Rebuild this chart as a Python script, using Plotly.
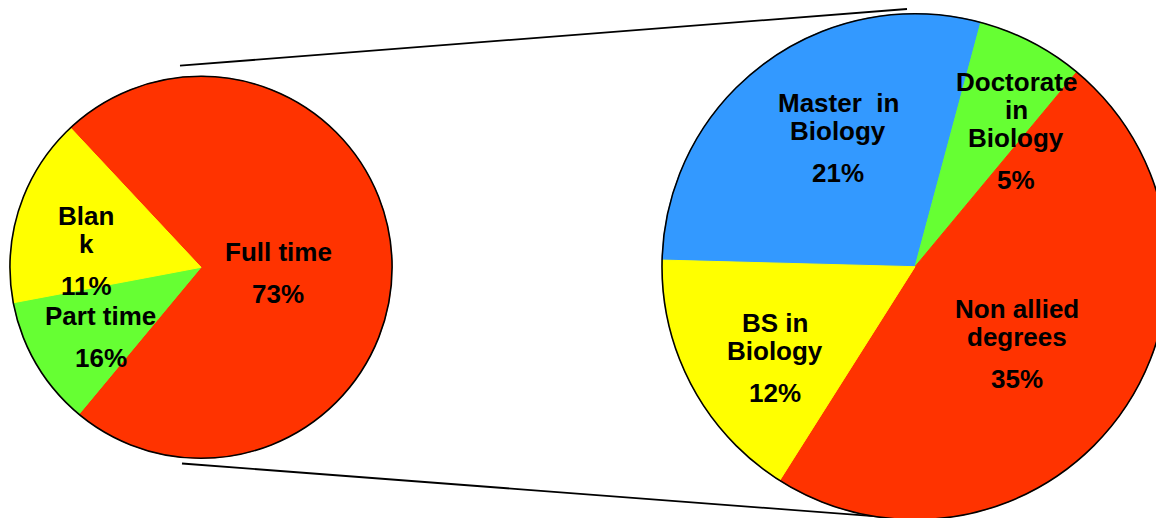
import plotly.graph_objects as go

# ---------------- data ----------------
# Left pie: employment status (slice sizes as drawn, printed percentage labels)
left_labels = ["Full time", "Part time", "Blank"]
left_values = [73, 11, 16]
left_printed = ["73%", "16%", "11%"]
left_display = ["Full time", "Part time", "Blan\nk"]
left_colors = ["#FF3300", "#66FF33", "#FFFF00"]

# Right pie: breakdown of the full-time group by degree
right_labels = ["Master in Biology", "Doctorate in Biology", "Non allied degrees", "BS in Biology"]
right_values = [21, 5, 35, 12]
right_printed = ["21%", "5%", "35%", "12%"]
right_display = ["Master  in\nBiology", "Doctorate\nin\nBiology", "Non allied\ndegrees", "BS in\nBiology"]
right_colors = ["#3399FF", "#66FF33", "#FF3300", "#FFFF00"]

# ---------------- layout geometry (pixels) ----------------
W, H = 1170, 520
FONT = "Liberation Sans, Arial, sans-serif"
FS = 26


def dom(cx, cy, r):
    return dict(x=[(cx - r) / W, (cx + r) / W], y=[1 - (cy + r) / H, 1 - (cy - r) / H])


left_dom = dom(201, 267.3, 191)
right_dom = dom(915, 266.7, 253)

fig = go.Figure()


def add_pie(labels, values, colors, domain, rotation):
    fig.add_trace(go.Pie(
        labels=labels, values=values, sort=False, direction="clockwise",
        rotation=rotation, domain=domain, textinfo="none", hoverinfo="label+value",
        marker=dict(colors=colors, line=dict(color=colors, width=1)),
        showlegend=False,
    ))
    # outer outline only
    fig.add_trace(go.Pie(
        labels=["outline"], values=[1], domain=domain, textinfo="none",
        hoverinfo="skip", sort=False,
        marker=dict(colors=["rgba(0,0,0,0)"], line=dict(color="black", width=1.6)),
        showlegend=False,
    ))


add_pie(left_labels, left_values, left_colors, left_dom, -43.1)
add_pie(right_labels, right_values, right_colors, right_dom, -88.5)

# label positions: (center x, first baseline y)
left_pos = [(278, 260.7), (100.5, 325), (86.3, 225)]
right_pos = [(838, 111.7), (1016, 90.7), (1017, 318.3), (775, 332.3)]
LINE_GAP = 28
PCT_GAP = 42

annotations = []


def add_labels(displays, printed, positions):
    for disp, pct, (x, y0) in zip(displays, printed, positions):
        lines = disp.split("\n")
        y = y0
        for i, ln in enumerate(lines):
            if i > 0:
                y += LINE_GAP
            annotations.append((x, y, ln))
        annotations.append((x, y + PCT_GAP, pct))


add_labels(left_display, left_printed, left_pos)
add_labels(right_display, right_printed, right_pos)

ann_objs = []
for x, yb, txt in annotations:
    ann_objs.append(dict(
        x=x, y=yb - 0.35 * FS, xref="x", yref="y", text="<b>%s</b>" % txt.replace(" ", "&nbsp;"),
        showarrow=False, xanchor="center", yanchor="middle",
        font=dict(family=FONT, size=FS, color="black"),
    ))

shapes = [
    dict(type="line", xref="x", yref="y", x0=180, y0=65.7, x1=907, y1=9,
         line=dict(color="black", width=1.8), layer="below"),
    dict(type="line", xref="x", yref="y", x0=182, y0=463.5, x1=880, y1=516.7,
         line=dict(color="black", width=1.8), layer="below"),
]

fig.update_layout(
    width=W, height=H, autosize=False,
    margin=dict(l=0, r=0, t=0, b=0, pad=0),
    paper_bgcolor="white", plot_bgcolor="rgba(0,0,0,0)",
    xaxis=dict(range=[0, W], visible=False, fixedrange=True, domain=[0, 1]),
    yaxis=dict(range=[H, 0], visible=False, fixedrange=True, domain=[0, 1]),
    annotations=ann_objs, shapes=shapes,
)

fig.write_html("out.html")
